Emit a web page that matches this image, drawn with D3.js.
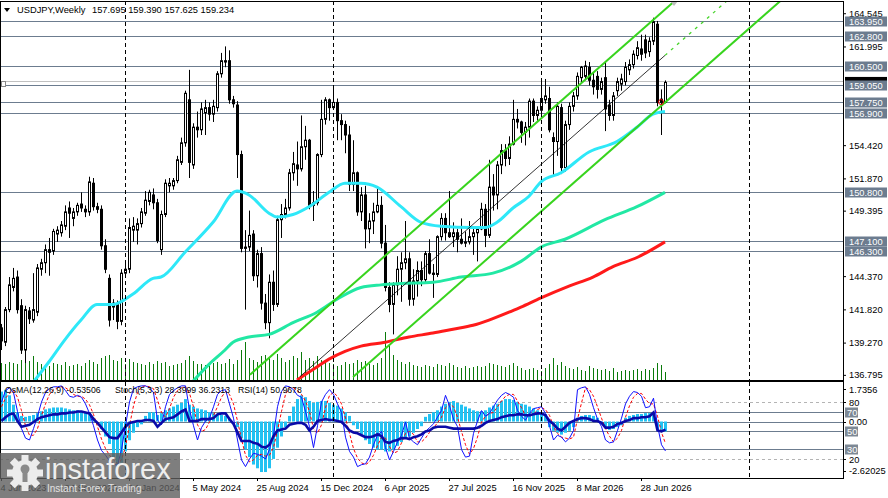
<!DOCTYPE html>
<html>
<head>
<meta charset="utf-8">
<script src="https://cdn.jsdelivr.net/npm/d3@7"></script>
<style>
body{margin:0;background:#fff;}
text{font-family:"Liberation Sans",Arial,sans-serif;}
</style>
</head>
<body>
<div id="chart"></div>
<script>
// ---- data ----
var tickLabels = ["4 Jun 2023","24 Sep 2023","14 Jan 2024","5 May 2024","25 Aug 2024","15 Dec 2024","6 Apr 2025","27 Jul 2025","16 Nov 2025","8 Mar 2026","28 Jun 2026"];
var yearSeparators = ["7 Jan 2024","5 Jan 2025","4 Jan 2026","3 Jan 2027"];
var priceTicks = [164.545,161.995,154.420,151.870,149.395,144.370,141.820,139.270,136.795];
var levels = [163.95,162.80,160.50,159.05,157.75,156.90,150.80,147.10,146.30];
var bidPrice = 159.234;
var headerOhlc = ["157.695","159.390","157.625","159.234"];

var opens = [140.4,139.3,141.8,143.5,144.3,142.1,138.7,141.7,141.0,141.6,
144.9,145.4,146.4,146.3,147.6,147.7,148.2,149.6,148.8,149.3,
149.9,149.5,149.3,151.5,149.7,149.5,146.7,144.2,142.0,142.2,
140.9,144.6,144.9,147.9,147.9,148.4,149.2,150.1,150.6,150.0,
146.4,149.1,151.3,151.3,151.7,153.1,154.6,157.9,152.9,155.8,
155.6,156.9,157.3,156.8,157.3,159.9,160.9,160.9,157.9,157.5,
153.7,146.5,146.6,147.6,144.4,146.1,142.3,140.8,143.9,142.2,
148.7,149.1,149.6,152.3,152.9,152.6,154.3,154.8,149.8,150.0,
153.7,156.4,157.9,157.3,157.7,156.3,156.0,155.2,151.4,152.3,
149.3,150.6,148.0,148.6,149.3,149.8,146.9,143.5,142.2,143.7,
144.9,145.4,145.7,142.6,144.0,144.8,144.1,146.1,144.6,144.5,
147.4,148.8,147.7,147.4,147.7,147.2,146.9,147.0,147.4,147.7,
148.0,149.5,147.5,151.2,150.6,152.9,154.0,153.4,154.5,156.4,
156.2,155.4,155.8,157.8,156.7,157.1,157.9,158.0,155.0,154.7,
157.3,152.7,156.0,157.4,158.2,159.6,159.7,160.4,159.4,159.7,
158.7,159.6,157.5,156.7,158.6,159.1,159.3,160.2,160.6,161.3,
161.8,162.5,161.6,162.4,163.7,157.95,157.695];

var highs = [140.7,142.0,144.3,145.0,144.8,142.6,142.1,142.0,144.6,145.3,
145.7,146.8,147.3,148.0,148.2,148.6,149.8,150.1,149.6,150.0,
150.8,149.8,152.0,151.9,150.0,149.8,147.2,144.5,142.6,142.5,
144.9,145.4,148.8,148.9,148.8,149.6,150.9,151.0,151.1,150.3,
149.4,151.8,151.9,151.9,153.6,155.0,158.6,160.2,156.1,157.0,
157.7,157.9,157.7,157.9,160.1,161.5,162.0,161.7,158.2,157.8,
154.0,147.9,149.4,147.9,146.4,146.6,143.0,144.5,144.8,149.0,
149.9,150.3,152.6,153.9,154.7,156.7,155.9,154.9,150.9,153.8,
157.9,158.1,158.0,158.9,158.0,156.8,156.3,155.9,154.8,152.4,
151.2,151.3,149.2,150.0,151.2,150.5,148.3,143.9,143.9,145.9,
146.2,148.6,146.2,144.9,145.5,145.5,146.3,147.2,145.3,147.5,
149.2,149.2,150.9,148.5,148.0,148.8,147.8,148.6,148.0,148.0,
150.0,149.9,153.3,152.2,153.2,154.5,154.5,155.1,157.9,157.2,
156.3,156.2,158.0,158.0,157.4,159.5,159.5,158.9,155.4,157.7,
157.6,156.3,157.7,158.5,160.0,160.5,160.9,160.8,160.0,160.1,
159.6,160.8,157.9,158.5,159.6,159.9,160.8,161.0,161.7,162.4,
162.9,162.9,162.7,164.2,163.95,158.7,159.39];

var lows = [138.7,139.0,141.6,143.2,141.5,138.4,137.7,140.7,140.8,141.3,
144.4,144.6,144.4,146.0,147.0,147.4,147.9,147.3,148.2,149.0,
149.3,148.9,149.0,149.4,149.2,146.4,144.6,140.5,141.0,140.3,
140.6,144.3,144.6,147.0,146.8,148.1,149.0,149.8,149.5,146.9,
146.0,148.9,150.8,151.0,151.5,152.9,154.3,151.9,152.6,155.0,
155.2,155.2,156.3,156.2,157.0,159.6,160.4,157.6,157.3,151.9,
146.2,141.8,146.3,144.0,143.5,141.8,140.3,139.6,141.7,142.0,
147.3,148.8,149.4,151.7,151.3,152.4,153.3,149.5,148.6,149.8,
153.5,156.0,156.3,157.2,154.8,154.8,153.8,150.9,150.9,149.0,
148.6,146.5,146.9,147.6,149.2,146.5,143.2,141.6,139.9,142.9,
142.4,144.9,142.1,142.1,142.8,143.6,143.8,144.5,142.7,144.3,
147.1,147.1,147.3,146.6,146.2,146.8,146.6,146.8,146.0,145.5,
147.9,146.6,147.3,149.4,149.5,152.2,152.8,152.9,154.4,155.7,
154.6,154.4,155.0,156.2,156.3,156.8,157.6,155.4,152.0,153.6,
152.2,152.4,155.6,157.0,157.9,159.2,159.4,159.0,158.3,158.0,
158.3,155.5,156.3,156.3,158.2,158.6,159.0,159.8,160.3,161.0,
160.9,161.1,161.2,162.1,157.4,155.2,157.625];

var closes = [139.4,141.8,143.7,144.2,141.8,138.7,141.8,141.1,141.8,145.0,
145.4,146.4,146.2,147.8,147.9,148.3,149.3,149.2,149.3,149.8,
149.6,149.3,151.6,149.7,149.5,146.7,144.9,141.0,142.3,140.9,
144.6,144.9,148.1,148.2,148.4,149.3,150.2,150.8,150.0,147.1,
149.1,151.5,151.5,151.7,153.3,154.6,158.4,153.1,155.8,155.6,
157.2,157.3,156.8,157.4,159.9,160.9,160.8,157.9,157.6,153.7,
146.5,146.6,147.5,144.4,146.1,142.3,140.8,143.9,142.2,148.7,
149.1,149.6,152.3,153.0,152.6,154.3,154.8,149.7,150.0,153.7,
156.4,157.9,157.3,157.7,156.3,156.0,155.2,151.4,152.3,149.3,
150.6,148.0,148.6,149.3,149.8,146.9,143.5,142.2,143.7,144.9,
145.4,145.7,142.6,144.0,144.8,144.1,146.1,144.6,144.5,147.4,
148.8,147.7,147.4,147.7,147.2,146.9,147.0,147.4,147.7,148.0,
149.5,147.5,151.2,150.6,152.9,154.0,153.4,154.5,156.4,156.2,
155.4,155.8,157.8,156.7,157.1,158.0,158.2,155.6,154.7,157.4,
152.7,156.0,157.4,158.2,159.7,160.4,160.5,159.4,158.9,158.7,
159.3,157.2,156.7,158.2,159.3,159.5,160.4,160.6,161.4,161.9,
161.4,161.5,162.4,163.9,157.7,157.7,159.234];

var volumes = [17,16,18,17,16,20,22,19,24,18,
16,15,14,17,16,15,18,14,15,16,
14,17,20,18,16,22,24,25,20,19,
22,16,21,18,17,16,15,18,16,19,
17,18,14,15,16,17,20,24,19,16,
16,15,14,17,18,16,17,21,16,20,
30,38,22,20,18,24,25,22,20,26,
22,18,20,24,22,28,20,22,19,24,
20,18,17,16,14,15,18,16,17,20,
18,19,16,15,17,22,48,35,25,20,
18,16,18,15,14,13,15,14,13,16,
15,14,17,15,13,12,14,12,13,14,
13,14,17,16,15,14,13,15,17,14,
12,10,11,12,10,9,12,16,22,15,
18,14,12,11,13,10,9,14,12,11,
10,11,9,12,8,9,10,9,10,11,
9,11,10,12,17,15,8];

// moving averages, [bar, price] points
var maCyan = [[8,136.2],[12,137.8],[16,139.5],[20,141.0],[24,142.2],[28,142.2],[33,143.0],[38,144.2],[40,144.3],[46,146.2],[53,148.5],[59,150.9],[62,150.6],[67,149.2],[69,148.9],[73,149.1],[77,149.7],[82,150.8],[86,151.5],[90,151.5],[94,151.2],[100,149.7],[105,148.5],[110,148.2],[118,148.1],[121,148.1],[124,148.5],[128,149.6],[132,150.5],[135,151.6],[140,152.3],[147,153.9],[154,154.7],[159,155.8],[163,156.8],[166,157.0]];
var maGreen = [[48,136.3],[52,137.6],[56,138.7],[58,139.3],[62,139.7],[67,139.9],[73,140.8],[79,141.6],[84,142.6],[90,143.5],[95,143.7],[100,143.8],[108,143.9],[115,144.3],[123,144.6],[130,145.5],[135,146.6],[141,147.2],[151,148.7],[159,149.7],[166,150.8]];
var maRed = [[74,136.4],[78,137.2],[82,138.0],[86,138.6],[90,139.0],[96,139.3],[102,139.7],[108,140.0],[113,140.3],[118,140.6],[122,141.0],[127,141.6],[130,142.0],[135,142.7],[142,143.6],[148,144.3],[153,145.1],[159,145.8],[166,147.0]];

// channel anchors [bar, price]
var channelUpper = [[62.25,136.81],[172,166.45]];
var channelLower = [[88,136.63],[200,166.88]];
var channelMid = [[74.75,136.66],[166,161.31]];
var channelMidRay = [[166,161.31],[186,166.71]];
var touchMark = [165,157.73];

// oscillators
var osma = [1.6,1.7,1.4,0.9,0.5,0.3,0.25,0.3,0.35,0.45,
0.55,0.65,0.7,0.75,0.75,0.75,0.7,0.65,0.6,0.6,
0.55,0.5,0.4,0.2,0.0,-0.4,-0.8,-1.2,-1.9,-2.4,
-2.2,-1.6,-1.0,-0.6,-0.3,-0.15,0.3,0.5,0.5,0.35,
0.45,0.6,0.7,0.8,0.9,1.0,1.2,0.9,0.8,0.7,
0.65,0.6,0.5,0.45,0.4,0.35,0.3,0.15,0.0,-0.3,
-0.9,-1.5,-1.9,-2.3,-2.5,-2.7,-2.7,-2.5,-2.0,-1.4,
-0.8,-0.3,0.3,0.8,1.2,1.4,1.3,1.1,1.0,1.05,
1.1,1.1,1.0,0.9,0.85,0.7,0.5,0.3,-0.2,-0.4,
-0.7,-1.0,-1.2,-1.4,-1.5,-1.5,-1.6,-1.6,-1.5,-1.3,
-1.1,-0.9,-0.8,-0.6,-0.4,-0.25,0.25,0.4,0.5,0.6,
0.8,0.95,1.05,1.1,1.0,0.9,0.8,0.7,0.6,0.55,
0.55,0.6,0.75,0.85,0.95,1.1,1.2,1.2,1.15,1.05,
0.95,0.9,0.8,0.7,0.6,0.5,0.4,-0.3,-0.5,-0.6,
-0.7,-0.6,-0.5,-0.3,0.2,0.3,0.35,0.35,0.3,0.2,
-0.1,-0.3,-0.45,-0.4,-0.3,-0.2,0.2,0.3,0.35,0.4,
0.4,0.45,0.45,0.4,-0.4,-0.55,-0.535];

var stochMain = [80,92,95,90,70,52,42,40,52,65,
80,90,94,96,96,97,92,86,85,87,
85,78,68,55,40,29,24,18,15,13,
30,55,80,94,96,97,97,95,90,61,
56,75,88,92,95,97,97,72,55,40,
53,60,63,75,88,92,93,78,63,40,
19,12,20,26,25,23,20,30,45,75,
91,97,96,93,87,85,70,54,32,55,
80,88,93,88,78,69,43,28,22,12,
14,15,22,35,45,49,32,19,28,38,
45,59,42,38,35,42,49,53,57,64,
71,87,76,62,54,30,22,23,47,60,
71,65,68,75,82,87,90,88,85,71,
65,61,68,73,74,75,68,55,40,45,
43,38,42,50,93,95,96,88,74,62,
54,40,37,38,50,63,78,86,91,90,
86,74,75,84,55,35,28.4];

var stochSignal = [75,84,89,92,85,71,55,45,45,52,
66,78,88,93,95,96,95,92,88,86,
86,83,77,67,54,41,31,24,19,15,
19,33,55,76,90,96,97,96,94,82,
69,64,73,85,92,95,96,89,75,56,
49,51,59,66,75,85,91,88,78,60,
41,24,17,19,24,25,23,24,32,50,
70,88,95,95,92,88,81,70,52,47,
56,74,87,90,86,78,63,47,31,21,
16,14,17,24,34,43,42,33,26,28,
37,47,49,46,38,38,42,48,53,58,
64,74,78,75,64,49,35,25,31,43,
59,65,68,69,75,81,86,88,88,81,
74,66,65,67,72,74,72,66,54,47,
43,42,41,43,62,79,95,93,86,75,
63,52,44,38,42,50,64,76,85,89,
89,83,78,78,65,48,36.2];

var rsi = [60,64,67,68,60,54,55,56,59,62,
64,65,66,67,67,68,68,69,69,70,
70,69,68,62,58,53,48,43,42,42,
48,54,58,59,60,60,61,61,60,54,
58,62,63,64,67,70,72,60,60,60,
62,62,62,63,67,68,68,62,57,48,
39,39,39,37,36,33,32,35,44,50,
51,52,56,57,58,58,56,50,54,60,
61,62,61,61,60,59,55,50,48,47,
45,43,43,44,46,44,38,37,39,40,
42,42,41,43,44,46,49,50,53,54,
54,54,53,52,52,52,52,52,52,53,
55,58,60,61,62,64,65,66,66,67,
67,66,66,67,68,68,66,60,57,52,
50,54,58,60,62,63,63,62,60,60,
58,53,53,54,57,58,60,61,63,63,
64,64,65,69,50,49,50.97];

var oscHeader = ["OsMA(12,26,9) -0.53506", "Stoch(5,3,3) 28.3999 36.2313", "RSI(14) 50.9678"];

// ---- layout ----
var width = 888, height = 498;
var plotRight = 843;
var mainTop = 1, mainBottom = 380, oscTop = 382, oscBottom = 478;
var weekMs = 7 * 24 * 3600 * 1000;
var fontSize = "9.3px";

var svg = d3.select("#chart").append("svg")
    .attr("width", width)
    .attr("height", height);
svg.append("rect").attr("width", width).attr("height", height).attr("fill", "#fff");

var parseDay = d3.utcParse("%d %b %Y");
var firstBar = parseDay(tickLabels[0]);

var x = d3.scaleUtc()
    .domain([firstBar, d3.utcWeek.offset(firstBar, 210)])
    .range([1, 841]);

function barX(i){ return x(new Date(+firstBar + i * weekMs)); }
function px(i){ return Math.round(barX(i)) + 0.5; }

var y = d3.scaleLinear().domain([136.40, 165.56]).range([mainBottom, 0]);
var volY = d3.scaleLinear().domain([0, 50]).range([mainBottom, mainBottom - 50]);
var pctY = d3.scaleLinear().domain([0, 100]).range([oscBottom, 383]);
var osmaY = d3.scaleLinear().domain([-3.02, 2.06]).range([oscBottom, 383]);

var defs = svg.append("defs");
defs.append("clipPath").attr("id", "clipMain").append("rect")
    .attr("x", 0).attr("y", mainTop).attr("width", plotRight).attr("height", mainBottom - mainTop);
defs.append("clipPath").attr("id", "clipOsc").append("rect")
    .attr("x", 0).attr("y", oscTop).attr("width", plotRight).attr("height", oscBottom - oscTop);

var gMain = svg.append("g").attr("clip-path", "url(#clipMain)");
var gOsc = svg.append("g").attr("clip-path", "url(#clipOsc)");

var slate = "#6c7c8f";

// horizontal levels
gMain.selectAll("line.level").data(levels).enter().append("line")
    .attr("x1", 0).attr("x2", plotRight)
    .attr("y1", function(d){ return Math.round(y(d)) + 0.5; })
    .attr("y2", function(d){ return Math.round(y(d)) + 0.5; })
    .attr("stroke", slate).attr("stroke-width", 1);

// bid line
gMain.append("line")
    .attr("x1", 0).attr("x2", plotRight)
    .attr("y1", Math.round(y(bidPrice)) - 0.5).attr("y2", Math.round(y(bidPrice)) - 0.5)
    .attr("stroke", "#c0c0c0");
gMain.append("rect")
    .attr("x", 1.5).attr("y", Math.round(y(159.05)) - 3.5).attr("width", 4).attr("height", 5)
    .attr("fill", "#fff").attr("stroke", "#8a8a8a");

// volumes
gMain.selectAll("line.vol").data(volumes).enter().append("line")
    .attr("x1", function(d, i){ return px(i); })
    .attr("x2", function(d, i){ return px(i); })
    .attr("y1", mainBottom)
    .attr("y2", function(d){ return volY(d); })
    .attr("stroke", "#0a7a0a").attr("stroke-width", 1);

// candles
var candle = gMain.selectAll("g.candle").data(closes).enter().append("g");
candle.append("line")
    .attr("x1", function(d, i){ return px(i); })
    .attr("x2", function(d, i){ return px(i); })
    .attr("y1", function(d, i){ return y(highs[i]); })
    .attr("y2", function(d, i){ return y(lows[i]); })
    .attr("stroke", "#000");
candle.append("rect")
    .attr("x", function(d, i){ return px(i) - 1; })
    .attr("width", 2)
    .attr("y", function(d, i){ return y(Math.max(opens[i], d)); })
    .attr("height", function(d, i){ return Math.max(0.5, Math.abs(y(opens[i]) - y(d))); })
    .attr("fill", function(d, i){ return d >= opens[i] ? "#fff" : "#000"; })
    .attr("stroke", "#000").attr("stroke-width", 1);

// moving averages
var maLine = d3.line()
    .x(function(d){ return barX(d[0]); })
    .y(function(d){ return y(d[1]); })
    .curve(d3.curveMonotoneX);

gMain.append("path").attr("d", maLine(maRed)).attr("fill", "none").attr("stroke", "#ff1a1a").attr("stroke-width", 3);
gMain.append("path").attr("d", maLine(maGreen)).attr("fill", "none").attr("stroke", "#22e8a4").attr("stroke-width", 3);
gMain.append("path").attr("d", maLine(maCyan)).attr("fill", "none").attr("stroke", "#2ee8f8").attr("stroke-width", 3);

// channel
var straight = d3.line()
    .x(function(d){ return barX(d[0]); })
    .y(function(d){ return y(d[1]); });

gMain.append("path").attr("d", straight(channelUpper)).attr("stroke", "#38d41e").attr("stroke-width", 2).attr("fill", "none");
gMain.append("path").attr("d", straight(channelLower)).attr("stroke", "#38d41e").attr("stroke-width", 2).attr("fill", "none");
gMain.append("path").attr("d", straight(channelMid)).attr("stroke", "#000").attr("stroke-width", 0.8).attr("fill", "none");
gMain.append("path").attr("d", straight(channelMidRay)).attr("stroke", "#46d42a").attr("stroke-width", 1.3)
    .attr("stroke-dasharray", "3,5").attr("fill", "none");

gMain.append("circle")
    .attr("cx", barX(touchMark[0])).attr("cy", y(touchMark[1])).attr("r", 2.5)
    .attr("fill", "none").attr("stroke", "#e00000").attr("stroke-width", 1);

// small grey arrow where the upper channel leaves the top
gMain.append("path")
    .attr("d", "M670,1 L678,1 L674,6 Z")
    .attr("fill", "#bdbdbd");

// oscillator levels
var oscSolid = [70, 50, 30];
gOsc.selectAll("line.solid").data(oscSolid).enter().append("line")
    .attr("x1", 0).attr("x2", plotRight)
    .attr("y1", function(d){ return Math.round(pctY(d)) + 0.5; })
    .attr("y2", function(d){ return Math.round(pctY(d)) + 0.5; })
    .attr("stroke", slate);
gOsc.append("line")
    .attr("x1", 0).attr("x2", plotRight)
    .attr("y1", Math.round(osmaY(0)) + 0.5).attr("y2", Math.round(osmaY(0)) + 0.5)
    .attr("stroke", slate);
gOsc.selectAll("line.dash").data([80, 20]).enter().append("line")
    .attr("x1", 0).attr("x2", plotRight)
    .attr("y1", function(d){ return Math.round(pctY(d)) + 0.5; })
    .attr("y2", function(d){ return Math.round(pctY(d)) + 0.5; })
    .attr("stroke", "#b4b4b4").attr("stroke-dasharray", "3,3");

// OsMA histogram
gOsc.selectAll("rect.osma").data(osma).enter().append("rect")
    .attr("x", function(d, i){ return px(i) - 1.5; })
    .attr("width", 3)
    .attr("y", function(d){ return Math.min(osmaY(d), osmaY(0)); })
    .attr("height", function(d){ return Math.abs(osmaY(d) - osmaY(0)); })
    .attr("fill", "#22c2f2");

var oscLine = d3.line()
    .x(function(d, i){ return px(i); })
    .y(function(d){ return pctY(d); });

gOsc.append("path").attr("d", oscLine(stochSignal)).attr("fill", "none")
    .attr("stroke", "#ff0000").attr("stroke-width", 1).attr("stroke-dasharray", "3,2");
gOsc.append("path").attr("d", oscLine(stochMain)).attr("fill", "none")
    .attr("stroke", "#1010ff").attr("stroke-width", 1);
gOsc.append("path").attr("d", oscLine(rsi)).attr("fill", "none")
    .attr("stroke", "#0a0aa8").attr("stroke-width", 2.6);

// year separators through both panels
yearSeparators.forEach(function(s){
    var sx = Math.round(x(parseDay(s))) + 0.5;
    [[mainTop, mainBottom], [oscTop, oscBottom]].forEach(function(r){
        svg.append("line")
            .attr("x1", sx).attr("x2", sx).attr("y1", r[0]).attr("y2", r[1])
            .attr("stroke", "#000").attr("stroke-dasharray", "4,3");
    });
});

// frames
svg.append("rect").attr("x", 0.5).attr("y", mainTop + 0.5).attr("width", plotRight).attr("height", mainBottom - mainTop)
    .attr("fill", "none").attr("stroke", "#000");
svg.append("rect").attr("x", 0.5).attr("y", oscTop - 0.5).attr("width", plotRight).attr("height", oscBottom - oscTop + 1)
    .attr("fill", "none").attr("stroke", "#000");

// price axis
var yAxis = d3.axisRight(y)
    .tickValues(priceTicks)
    .tickFormat(d3.format(".3f"))
    .tickSize(3).tickPadding(3);

var gy = svg.append("g")
    .attr("transform", "translate(" + plotRight + ",0)")
    .call(yAxis);
gy.select(".domain").remove();
gy.selectAll("text").attr("font-size", fontSize).attr("fill", "#000").attr("font-family", "Liberation Sans, Arial, sans-serif");
gy.selectAll("line").attr("stroke", "#000");

// current price box (mostly hidden) then level boxes
svg.append("rect").attr("x", 845).attr("y", y(bidPrice) - 5.5).attr("width", 42).attr("height", 10).attr("fill", "#000");
var box = svg.selectAll("g.lbox").data(levels).enter().append("g")
    .attr("transform", function(d){ return "translate(845," + Math.round(y(d)) + ")"; });
box.append("rect").attr("x", 0).attr("y", -4.5).attr("width", 42).attr("height", 10).attr("fill", slate);
box.append("text").text(function(d){ return d3.format(".3f")(d); })
    .attr("x", 4).attr("y", 4).attr("font-size", fontSize).attr("fill", "#fff");

// oscillator axis labels
var oscPlain = [[osmaY(1.7356), "1.7356"], [pctY(80), "80"], [osmaY(0), "0.00"], [pctY(20), "20"], [osmaY(-2.62025), "-2.62025"]];
oscPlain.forEach(function(p){
    svg.append("line").attr("x1", plotRight).attr("x2", plotRight + 3)
        .attr("y1", Math.round(p[0]) + 0.5).attr("y2", Math.round(p[0]) + 0.5).attr("stroke", "#000");
    svg.append("text").text(p[1]).attr("x", 849).attr("y", p[0] + 3.5)
        .attr("font-size", fontSize).attr("fill", "#000");
});
oscSolid.forEach(function(v){
    var yy = Math.round(pctY(v));
    svg.append("rect").attr("x", 845).attr("y", yy - 4.5).attr("width", 13).attr("height", 10).attr("fill", "#7d8894");
    svg.append("text").text(v).attr("x", 847).attr("y", yy + 4)
        .attr("font-size", fontSize).attr("fill", "#fff");
});

// time axis
var xAxis = d3.axisBottom(x)
    .tickValues(tickLabels.map(parseDay))
    .tickFormat(d3.utcFormat("%-d %b %Y"))
    .tickSize(3).tickPadding(3);
var gx = svg.append("g")
    .attr("transform", "translate(0," + oscBottom + ")")
    .call(xAxis);
gx.select(".domain").remove();
gx.selectAll("text").attr("text-anchor", "start").attr("x", -1)
    .attr("font-size", fontSize).attr("fill", "#000").attr("font-family", "Liberation Sans, Arial, sans-serif");

// headers
svg.append("path").attr("d", "M4,8 L10,8 L7,12 Z").attr("fill", "#000");
svg.append("text").text("USDJPY,Weekly").attr("x", 17).attr("y", 12.5).attr("font-size", fontSize);
svg.append("text").text(headerOhlc.join(" ")).attr("x", 92).attr("y", 12.5).attr("font-size", fontSize);
[5, 115, 238].forEach(function(hx, k){
    svg.append("text").text(oscHeader[k]).attr("x", hx).attr("y", 393).attr("font-size", "8.7px");
});

// watermark
var wm = svg.append("g");
wm.append("rect").attr("x", 0).attr("y", 453).attr("width", 180).attr("height", 45)
    .attr("fill", "#5e5e5e").attr("opacity", 0.8);
var gear = wm.append("g").attr("transform", "translate(25,473)");
d3.range(8).forEach(function(k){
    gear.append("rect").attr("x", -3.5).attr("y", -18).attr("width", 7).attr("height", 8)
        .attr("fill", "#ececec").attr("transform", "rotate(" + (k * 45) + ")");
});
gear.append("circle").attr("r", 13).attr("fill", "#ececec");
gear.append("circle").attr("cy", -4).attr("r", 4.5).attr("fill", "#8a8a8a");
gear.append("rect").attr("x", -2.5).attr("y", -2).attr("width", 5).attr("height", 11).attr("fill", "#8a8a8a");
wm.append("text").text("instaforex").attr("x", 45).attr("y", 479)
    .attr("font-family", "Open Sans, sans-serif").attr("font-weight", 300)
    .attr("font-size", "29px").attr("fill", "#eeeeee");
wm.append("text").text("Instant Forex Trading").attr("x", 47).attr("y", 492)
    .attr("font-size", "10px").attr("fill", "#e2e2e2");
</script>
</body>
</html>
